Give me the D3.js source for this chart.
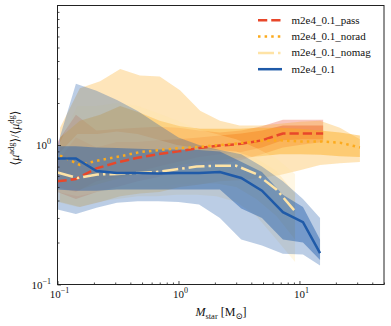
<!DOCTYPE html>
<html>
<head>
<meta charset="utf-8">
<script src="https://cdn.jsdelivr.net/npm/d3@7"></script>
<style>
body{margin:0;background:#fff}
svg{display:block}
text{font-family:"Liberation Serif","DejaVu Serif",serif;fill:#111}
</style>
</head>
<body>
<svg id="chart" width="391" height="326"></svg>
<script>
// stellar mass bins of each run
var passMass  = [0.1, 0.142, 0.21, 0.31, 0.46, 0.68, 1.0, 1.48, 2.2, 3.3, 4.9, 7.3, 10.7, 15.7];
var noradMass = [0.105, 0.153, 0.225, 0.33, 0.48, 0.70, 1.03, 1.51, 2.2, 3.2, 4.7, 6.9, 10.1, 14.8, 21.6, 31.6];
var nomagMass = [0.1, 0.146, 0.213, 0.31, 0.46, 0.66, 0.97, 1.41, 2.06, 3.0, 4.4, 6.45, 9.2];
var blueMass  = [0.1, 0.142, 0.21, 0.31, 0.46, 0.68, 1.0, 1.48, 2.2, 3.3, 4.9, 7.3, 10.7, 14.8];

// m2e4_0.1_pass
var passMedian = [0.55, 0.57, 0.68, 0.75, 0.81, 0.86, 0.90, 0.95, 0.99, 1.02, 1.08, 1.21, 1.21, 1.21];
var passHi1 = [0.76, 1.13, 0.96, 1.05, 1.05, 1.08, 1.10, 1.13, 1.17, 1.21, 1.27, 1.38, 1.38, 1.38];
var passLo1 = [0.50, 0.46, 0.55, 0.59, 0.64, 0.70, 0.76, 0.82, 0.86, 0.89, 0.96, 1.08, 1.10, 1.10];
var passHi2 = [1.05, 1.65, 1.27, 1.30, 1.33, 1.35, 1.33, 1.27, 1.23, 1.27, 1.36, 1.52, 1.52, 1.52];
var passLo2 = [0.46, 0.41, 0.46, 0.50, 0.55, 0.59, 0.66, 0.70, 0.73, 0.78, 0.86, 0.96, 1.01, 1.05];

// m2e4_0.1_norad
var noradMedian = [0.84, 0.72, 0.78, 0.83, 0.89, 0.92, 0.95, 0.97, 1.0, 1.03, 1.07, 1.08, 1.06, 1.06, 1.04, 0.96];
var noradHi1 = [1.13, 1.49, 1.65, 1.9, 1.7, 1.49, 1.36, 1.31, 1.31, 1.31, 1.33, 1.33, 1.31, 1.27, 1.23, 1.17];
var noradLo1 = [0.55, 0.48, 0.53, 0.58, 0.62, 0.66, 0.72, 0.755, 0.78, 0.81, 0.83, 0.86, 0.86, 0.85, 0.83, 0.82];
var noradHi2 = [1.33, 2.55, 2.86, 3.5, 3.15, 3.1, 2.47, 1.76, 1.49, 1.38, 1.38, 1.42, 1.47, 1.49, 1.33, 1.10];
var noradLo2 = [0.39, 0.36, 0.39, 0.43, 0.45, 0.46, 0.50, 0.52, 0.55, 0.56, 0.58, 0.61, 0.66, 0.72, 0.74, 0.755];

// m2e4_0.1_nomag
var nomagMedian = [0.635, 0.58, 0.615, 0.62, 0.63, 0.64, 0.67, 0.70, 0.71, 0.71, 0.62, 0.48, 0.335];
var nomagHi1 = [0.85, 1.2, 1.2, 1.25, 1.2, 1.1, 1.0, 0.95, 0.92, 0.9, 0.8, 0.65, 0.45];
var nomagLo1 = [0.46, 0.43, 0.46, 0.48, 0.50, 0.50, 0.52, 0.53, 0.53, 0.50, 0.41, 0.31, 0.21];
var nomagHi2 = [0.96, 1.9, 1.9, 2.0, 1.9, 1.7, 1.5, 1.3, 1.2, 1.1, 0.95, 0.80, 0.62];
var nomagLo2 = [0.39, 0.36, 0.39, 0.41, 0.43, 0.43, 0.44, 0.44, 0.43, 0.39, 0.31, 0.21, 0.145];

// m2e4_0.1
var blueMedian = [0.80, 0.80, 0.65, 0.63, 0.63, 0.625, 0.63, 0.63, 0.64, 0.58, 0.47, 0.33, 0.28, 0.168];
var blueHi1 = [0.98, 0.98, 0.96, 0.95, 0.94, 0.93, 0.93, 0.92, 0.90, 0.76, 0.64, 0.44, 0.36, 0.21];
var blueLo1 = [0.48, 0.47, 0.47, 0.48, 0.48, 0.48, 0.48, 0.48, 0.48, 0.35, 0.30, 0.21, 0.20, 0.15];
var blueHi2 = [1.0, 2.75, 2.45, 2.1, 1.75, 1.4, 1.13, 1.0, 0.92, 0.86, 0.70, 0.55, 0.41, 0.30];
var blueLo2 = [0.345, 0.32, 0.355, 0.385, 0.395, 0.395, 0.39, 0.375, 0.30, 0.21, 0.19, 0.166, 0.164, 0.137];

var seriesNames = ["m2e4_0.1_pass", "m2e4_0.1_norad", "m2e4_0.1_nomag", "m2e4_0.1"];
var xTicks = [0.1, 1, 10];
var yTicks = [0.1, 1];

function rows(m, med, lo1, hi1, lo2, hi2){
	return m.map(function(d, i){
		return {m: d, med: med[i], lo1: lo1[i], hi1: hi1[i], lo2: lo2[i], hi2: hi2[i]};
	});
}

var series = [
	{name: seriesNames[0], color: "#e8472a", dash: "9.25,4", data: rows(passMass, passMedian, passLo1, passHi1, passLo2, passHi2)},
	{name: seriesNames[1], color: "#fcaa1c", dash: "2.5,4.1", data: rows(noradMass, noradMedian, noradLo1, noradHi1, noradLo2, noradHi2)},
	{name: seriesNames[2], color: "#fee3a6", dash: "16,4,2.5,4", data: rows(nomagMass, nomagMedian, nomagLo1, nomagHi1, nomagLo2, nomagHi2)},
	{name: seriesNames[3], color: "#1f5aa8", dash: null, data: rows(blueMass, blueMedian, blueLo1, blueHi1, blueLo2, blueHi2)}
];

var L = 57.5, R = 384, T = 5.5, B = 284.5;
var svg = d3.select("#chart");

var x = d3.scaleLog().domain([0.1, 50]).range([L, R]);
var y = d3.scaleLog().domain([0.1, 10]).range([B, T]);

svg.append("clipPath").attr("id", "clip")
	.append("rect").attr("x", L).attr("y", T).attr("width", R - L).attr("height", B - T);

var plot = svg.append("g").attr("clip-path", "url(#clip)");

// bands
series.forEach(function(s){
	var outer = d3.area().x(function(d){ return x(d.m); })
		.y0(function(d){ return y(d.lo2); }).y1(function(d){ return y(d.hi2); });
	var inner = d3.area().x(function(d){ return x(d.m); })
		.y0(function(d){ return y(d.lo1); }).y1(function(d){ return y(d.hi1); });
	plot.append("path").attr("d", outer(s.data))
		.attr("fill", s.color).attr("fill-opacity", 0.3);
	plot.append("path").attr("d", inner(s.data))
		.attr("fill", s.color).attr("fill-opacity", 0.45);
});

// median lines
var line = d3.line().x(function(d){ return x(d.m); }).y(function(d){ return y(d.med); });
series.forEach(function(s){
	plot.append("path").attr("d", line(s.data))
		.attr("fill", "none")
		.attr("stroke", s.color)
		.attr("stroke-width", 2.5)
		.attr("stroke-dasharray", s.dash);
});

// axes, ticks pointing inward
var xMinor = [];
var yMinor = [];
[0.1, 1, 10].forEach(function(b){
	for(var k = 2; k <= 9; k++){
		if(b * k <= 50) xMinor.push(b * k);
	}
});
[0.1, 1].forEach(function(b){
	for(var k = 2; k <= 9; k++) yMinor.push(b * k);
});

svg.append("g").attr("class", "axis")
	.attr("transform", "translate(0," + B + ")")
	.call(d3.axisBottom(x).tickValues(xMinor).tickSize(-2).tickFormat(""));
svg.append("g").attr("class", "axis")
	.attr("transform", "translate(0," + B + ")")
	.call(d3.axisBottom(x).tickValues(xTicks).tickSize(-3.5).tickFormat(""));
svg.append("g").attr("class", "axis")
	.attr("transform", "translate(" + L + ",0)")
	.call(d3.axisLeft(y).tickValues(yMinor).tickSize(-2).tickFormat(""));
svg.append("g").attr("class", "axis")
	.attr("transform", "translate(" + L + ",0)")
	.call(d3.axisLeft(y).tickValues(yTicks).tickSize(-3.5).tickFormat(""));

svg.selectAll(".axis path").remove();
svg.selectAll(".axis line").attr("stroke", "#222").attr("stroke-width", 0.8);

svg.append("rect")
	.attr("x", L).attr("y", T).attr("width", R - L).attr("height", B - T)
	.attr("fill", "none").attr("stroke", "#222").attr("stroke-width", 1);

function powLabel(t, v){
	var e = Math.round(Math.log10(v));
	t.append("tspan").text("10");
	t.append("tspan").attr("dy", -5).attr("font-size", 8).text(e < 0 ? "\u2212" + (-e) : e);
}

xTicks.forEach(function(v){
	var t = svg.append("text").attr("x", x(v) + 2).attr("y", 298)
		.attr("text-anchor", "middle").attr("font-size", 11);
	powLabel(t, v);
});
yTicks.forEach(function(v){
	var t = svg.append("text").attr("x", 51).attr("y", y(v) + 4)
		.attr("text-anchor", "end").attr("font-size", 11);
	powLabel(t, v);
});

// axis labels
var xl = svg.append("text").attr("x", 221).attr("y", 316)
	.attr("text-anchor", "middle").attr("font-size", 12);
xl.append("tspan").attr("font-style", "italic").text("M");
xl.append("tspan").attr("dy", 2.5).attr("font-size", 8.5).text("star");
xl.append("tspan").attr("dy", -2.5).text(" [M");
xl.append("tspan").attr("dy", 2.5).attr("font-size", 8.5).text("\u2299");
xl.append("tspan").attr("dy", -2.5).text("]");

var yl = svg.append("text")
	.attr("transform", "translate(19,138) rotate(-90)")
	.attr("text-anchor", "middle").attr("font-size", 12);
yl.append("tspan").text("\u27e8");
yl.append("tspan").attr("font-style", "italic").text("\u03bc");
yl.append("tspan").attr("dy", -5).attr("font-size", 8.5).text("adg");
yl.append("tspan").attr("dy", 5).text("\u27e9/\u27e8");
yl.append("tspan").attr("font-style", "italic").text("\u03bc");
yl.append("tspan").attr("dy", 3).attr("font-size", 8.5).text("0");
yl.append("tspan").attr("dx", -4.3).attr("dy", -8.5).attr("font-size", 8.5).text("dg");
yl.append("tspan").attr("dy", 5.5).text("\u27e9");

// legend
var legend = svg.append("g");
series.forEach(function(s, i){
	var ly = 20.3 + i * 16.3;
	legend.append("line")
		.attr("x1", 258).attr("x2", 282).attr("y1", ly).attr("y2", ly)
		.attr("stroke", s.color).attr("stroke-width", 2.5)
		.attr("stroke-dasharray", s.dash);
	legend.append("text").attr("x", 291.5).attr("y", ly + 3.5)
		.attr("font-size", 11).text(s.name);
});
</script>
</body>
</html>
